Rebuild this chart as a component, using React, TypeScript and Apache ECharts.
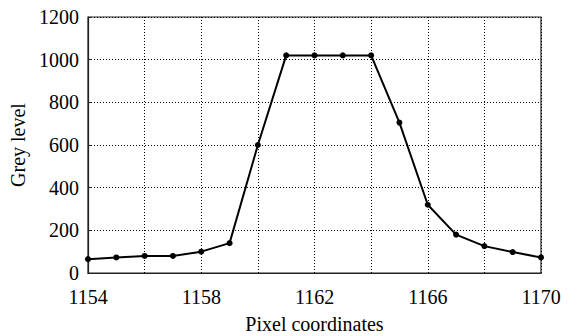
import React, { useEffect, useRef } from "react";
import * as echarts from "echarts";

const pixelCoords = [1154, 1155, 1156, 1157, 1158, 1159, 1160, 1161, 1162, 1163, 1164, 1165, 1166, 1167, 1168, 1169, 1170];
const greyLevels = [65, 73, 80, 80, 100, 140, 600, 1020, 1020, 1020, 1020, 705, 320, 180, 126, 98, 73];
const xAxisName = "Pixel coordinates";
const yAxisName = "Grey level";

const FONT = "'Liberation Serif', 'Times New Roman', serif";

export default function App() {
  const ref = useRef<HTMLDivElement>(null);
  useEffect(() => {
    if (!ref.current) return;
    const chart = echarts.init(ref.current, undefined, { renderer: "svg" });
    chart.setOption({
      animation: false,
      backgroundColor: "#fff",
      grid: {
        left: 88,
        right: 41,
        top: 17,
        bottom: 63,
        show: true,
        borderColor: "#222",
        borderWidth: 1.2,
        containLabel: false,
        outerBoundsMode: "none",
      },
      xAxis: {
        type: "value",
        min: 1154,
        max: 1170,
        interval: 2,
        name: xAxisName,
        nameLocation: "middle",
        nameGap: 41,
        nameTextStyle: { fontFamily: FONT, fontSize: 20, color: "#000" },
        axisLine: { show: true, lineStyle: { color: "#222", width: 1.2 } },
        axisTick: { show: false },
        axisLabel: {
          fontFamily: FONT,
          fontSize: 20,
          color: "#000",
          margin: 14,
          formatter: (v: number) => ((v - 1154) % 4 === 0 ? String(v) : ""),
        },
        splitLine: { show: true, lineStyle: { color: "#000", type: [1, 2], width: 1 } },
      },
      yAxis: {
        type: "value",
        min: 0,
        max: 1200,
        interval: 200,
        name: yAxisName,
        nameLocation: "middle",
        nameGap: 54,
        nameTextStyle: { fontFamily: FONT, fontSize: 20, color: "#000" },
        axisLine: { show: true, lineStyle: { color: "#222", width: 1.2 } },
        axisTick: { show: true, inside: true, length: 4, lineStyle: { color: "#222" } },
        axisLabel: {
          fontFamily: FONT,
          fontSize: 20,
          color: "#000",
          margin: 9,
          formatter: (v: number) => String(v),
        },
        splitLine: { show: true, lineStyle: { color: "#000", type: [1, 2], width: 1 } },
      },
      series: [
        {
          type: "line",
          data: pixelCoords.map((x, i) => [x, greyLevels[i]]),
          symbol: "circle",
          symbolSize: 6,
          lineStyle: { color: "#000", width: 2 },
          itemStyle: { color: "#000" },
        },
      ],
    });
    return () => chart.dispose();
  }, []);
  return <div ref={ref} style={{ width: 582, height: 336, position: "absolute", left: 0, top: 0 }} />;
}
